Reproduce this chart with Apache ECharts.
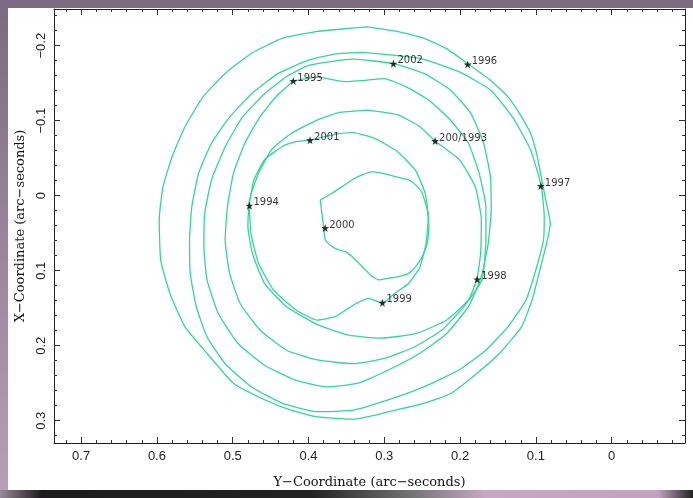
<!DOCTYPE html>
<html>
<head>
<meta charset="utf-8">
<script src="https://cdn.jsdelivr.net/npm/echarts@6/dist/echarts.min.js"></script>
<style>
  html, body { margin: 0; padding: 0; background: #86768b; }
  #chart { width: 693px; height: 498px; }
</style>
</head>
<body>
<div id="chart"></div>
<script>
// contour loops, [Y-coordinate, X-coordinate] in arc-seconds
const loopA = [[0.323,-0.225],[0.283,-0.219],[0.248,-0.210],[0.218,-0.196],[0.190,-0.176],[0.160,-0.154],[0.137,-0.132],[0.122,-0.110],[0.107,-0.083],[0.099,-0.056],[0.093,-0.025],[0.087,0.006],[0.081,0.037],[0.087,0.068],[0.096,0.104],[0.105,0.139],[0.119,0.175],[0.148,0.210],[0.178,0.237],[0.213,0.264],[0.248,0.277],[0.294,0.288],[0.341,0.298],[0.388,0.295],[0.423,0.286],[0.458,0.272],[0.499,0.250],[0.534,0.210],[0.563,0.175],[0.583,0.130],[0.595,0.086],[0.597,0.032],[0.592,-0.012],[0.580,-0.052],[0.563,-0.092],[0.539,-0.132],[0.510,-0.163],[0.475,-0.190],[0.434,-0.210],[0.388,-0.219],[0.347,-0.223],[0.323,-0.225]];
const loopB = [[0.329,-0.191],[0.253,-0.183],[0.201,-0.165],[0.160,-0.141],[0.131,-0.105],[0.107,-0.061],[0.093,-0.013],[0.089,0.028],[0.090,0.059],[0.099,0.095],[0.113,0.139],[0.137,0.175],[0.166,0.206],[0.201,0.232],[0.248,0.255],[0.294,0.272],[0.341,0.286],[0.388,0.288],[0.434,0.277],[0.475,0.255],[0.510,0.224],[0.534,0.188],[0.548,0.148],[0.556,0.104],[0.557,0.059],[0.554,0.015],[0.545,-0.030],[0.528,-0.070],[0.504,-0.105],[0.475,-0.136],[0.440,-0.163],[0.399,-0.181],[0.364,-0.189],[0.329,-0.191]];
const loopC = [[0.429,-0.159],[0.399,-0.174],[0.341,-0.182],[0.288,-0.176],[0.248,-0.163],[0.213,-0.141],[0.186,-0.110],[0.169,-0.070],[0.160,-0.025],[0.159,0.019],[0.163,0.064],[0.172,0.108],[0.189,0.148],[0.218,0.184],[0.253,0.210],[0.294,0.232],[0.335,0.250],[0.376,0.255],[0.417,0.246],[0.458,0.226],[0.493,0.197],[0.519,0.157],[0.534,0.112],[0.538,0.068],[0.537,0.024],[0.528,-0.021],[0.510,-0.065],[0.487,-0.105],[0.458,-0.136],[0.429,-0.159]];
const loopD = [[0.420,-0.153],[0.388,-0.158],[0.353,-0.152],[0.323,-0.154],[0.300,-0.156],[0.271,-0.145],[0.242,-0.128],[0.213,-0.101],[0.189,-0.070],[0.175,-0.030],[0.166,0.015],[0.166,0.059],[0.171,0.112],[0.195,0.148],[0.224,0.179],[0.259,0.201],[0.300,0.217],[0.341,0.224],[0.388,0.219],[0.429,0.206],[0.464,0.179],[0.490,0.144],[0.504,0.104],[0.510,0.059],[0.507,0.015],[0.499,-0.030],[0.484,-0.070],[0.464,-0.105],[0.443,-0.132],[0.420,-0.153]];
const loopE = [[0.323,-0.114],[0.283,-0.108],[0.253,-0.092],[0.233,-0.073],[0.201,-0.048],[0.180,-0.012],[0.172,0.032],[0.173,0.077],[0.178,0.112],[0.189,0.139],[0.218,0.166],[0.259,0.184],[0.306,0.190],[0.347,0.186],[0.388,0.172],[0.429,0.148],[0.458,0.117],[0.474,0.077],[0.480,0.041],[0.478,0.006],[0.466,-0.030],[0.449,-0.061],[0.423,-0.083],[0.388,-0.101],[0.359,-0.111],[0.323,-0.114]];
const loopF = [[0.398,-0.074],[0.364,-0.082],[0.341,-0.084],[0.312,-0.076],[0.283,-0.059],[0.259,-0.034],[0.246,-0.003],[0.242,0.028],[0.245,0.064],[0.253,0.095],[0.268,0.117],[0.286,0.130],[0.302,0.143],[0.321,0.137],[0.341,0.146],[0.364,0.161],[0.388,0.166],[0.417,0.152],[0.446,0.126],[0.466,0.090],[0.476,0.050],[0.478,0.013],[0.472,-0.021],[0.458,-0.048],[0.434,-0.066],[0.417,-0.072],[0.398,-0.074]];
const loopG = [[0.3845,0.0056],[0.3824,0.0233],[0.3801,0.0412],[0.3779,0.0589],[0.3691,0.0678],[0.3603,0.0722],[0.3514,0.0745],[0.3426,0.0811],[0.3338,0.0899],[0.3249,0.0989],[0.3162,0.1078],[0.3073,0.1122],[0.2940,0.1099],[0.2808,0.1078],[0.2675,0.1033],[0.2587,0.0945],[0.2499,0.0811],[0.2433,0.0633],[0.2411,0.0412],[0.2433,0.0189],[0.2499,-0.0033],[0.2587,-0.0144],[0.2675,-0.0210],[0.2852,-0.0254],[0.3029,-0.0300],[0.3162,-0.0321],[0.3294,-0.0277],[0.3426,-0.0210],[0.3559,-0.0121],[0.3691,-0.0033],[0.3845,0.0056]];
const loops = [loopA, loopB, loopC, loopD, loopE, loopF, loopG];

// marked positions
const starNames = ['2002', '1996', '1995', '2001', '200/1993', '1997', '1994', '2000', '1998', '1999'];
const starX = [0.288, 0.190, 0.420, 0.398, 0.233, 0.0935, 0.478, 0.378, 0.1775, 0.3025];
const starY = [-0.176, -0.175, -0.153, -0.074, -0.073, -0.013, 0.0133, 0.043, 0.1116, 0.1427];

// axes
const xMin = -0.0967, xMax = 0.7358;
const yMin = -0.2489, yMax = 0.3297;
const xMajor = [0, 0.1, 0.2, 0.3, 0.4, 0.5, 0.6, 0.7];
const yMajor = [-0.2, -0.1, 0, 0.1, 0.2, 0.3];
const xMinor = [-0.08,-0.06,-0.04,-0.02,0.02,0.04,0.06,0.08,0.12,0.14,0.16,0.18,0.22,0.24,0.26,0.28,0.32,0.34,0.36,0.38,0.42,0.44,0.46,0.48,0.52,0.54,0.56,0.58,0.62,0.64,0.66,0.68,0.72];
const yMinor = [-0.24,-0.22,-0.18,-0.16,-0.14,-0.12,-0.08,-0.06,-0.04,-0.02,0.02,0.04,0.06,0.08,0.12,0.14,0.16,0.18,0.22,0.24,0.26,0.28,0.32];

const chart = echarts.init(document.getElementById('chart'));

const fmt = v => (v < 0 ? '\u2212' + Math.abs(v) : String(v));
const lineColor = '#222';
const labelFont = { fontFamily: 'Liberation Sans', fontSize: 13, color: '#222' };
const nameFont = { fontFamily: 'DejaVu Serif', fontSize: 13, color: '#111' };

function axis(dim, pos, ticks, len, withLabels) {
  const a = {
    type: 'value', inverse: true, position: pos,
    min: dim === 'x' ? xMin : yMin,
    max: dim === 'x' ? xMax : yMax,
    axisLine: { show: len > 4, onZero: false, lineStyle: { color: lineColor, width: 1 } },
    axisTick: { show: true, inside: true, length: len, customValues: ticks, lineStyle: { color: '#333', width: 1 } },
    axisLabel: { show: false },
    splitLine: { show: false }
  };
  if (withLabels) {
    a.axisLabel = Object.assign({ show: true, customValues: ticks, formatter: fmt, margin: dim === 'x' ? 7 : 6, rotate: dim === 'x' ? 0 : 90 }, labelFont);
    a.name = dim === 'x' ? 'Y\u2212Coordinate (arc\u2212seconds)' : 'X\u2212Coordinate (arc\u2212seconds)';
    a.nameLocation = 'middle';
    a.nameGap = dim === 'x' ? 33 : 27;
    a.nameTextStyle = nameFont;
  }
  return a;
}

const series = loops.map(pts => ({
  type: 'line',
  data: pts,
  showSymbol: false,
  smooth: 0.15,
  lineStyle: { color: '#30d898', width: 1.3 },
  silent: true,
  z: 2
}));

series.push({
  type: 'scatter',
  data: starNames.map((n, i) => ({ name: n, value: [starX[i], starY[i]] })),
  symbol: 'path://M0,-10 L2.4,-3.2 9.5,-3.1 3.8,1.2 5.9,8.1 0,4 -5.9,8.1 -3.8,1.2 -9.5,-3.1 -2.4,-3.2 Z',
  symbolSize: 8,
  itemStyle: { color: '#000' },
  label: {
    show: true, position: 'right', distance: 0, offset: [0, -3],
    formatter: p => p.name,
    fontFamily: 'DejaVu Sans', fontSize: 10, color: '#000'
  },
  z: 3
});

chart.setOption({
  animation: false,
  backgroundColor: 'transparent',
  graphic: [
    {
      type: 'rect', z: -10, silent: true,
      shape: { x: 0, y: 0, width: 693, height: 498 },
      style: { fill: new echarts.graphic.LinearGradient(0, 0, 0, 1, [
        { offset: 0, color: '#7b6a82' }, { offset: 0.5, color: '#9a859d' }, { offset: 1, color: '#b79fb8' }]) }
    },
    {
      type: 'rect', z: -9, silent: true,
      shape: { x: 8, y: 8, width: 685, height: 482 },
      style: { fill: '#ffffff' }
    },
    {
      type: 'rect', z: -9, silent: true,
      shape: { x: 0, y: 490, width: 693, height: 8 },
      style: { fill: new echarts.graphic.LinearGradient(0, 0, 1, 0, [
        { offset: 0, color: '#9a8a9c' }, { offset: 0.06, color: '#1c1c1c' }, { offset: 0.45, color: '#222' },
        { offset: 0.6, color: '#777' }, { offset: 0.7, color: '#c7a7c3' }, { offset: 0.95, color: '#c2a2be' },
        { offset: 1, color: '#222' }]) }
    }
  ],
  grid: { left: 54, right: 8, top: 9, bottom: 55 },
  xAxis: [
    axis('x', 'bottom', xMajor, 6, true),
    axis('x', 'bottom', xMinor, 3, false),
    axis('x', 'top', xMajor, 6, false),
    axis('x', 'top', xMinor, 3, false)
  ],
  yAxis: [
    axis('y', 'left', yMajor, 6, true),
    axis('y', 'left', yMinor, 3, false),
    axis('y', 'right', yMajor, 6, false),
    axis('y', 'right', yMinor, 3, false)
  ],
  series: series
});

window.addEventListener('resize', () => chart.resize());
</script>
</body>
</html>
